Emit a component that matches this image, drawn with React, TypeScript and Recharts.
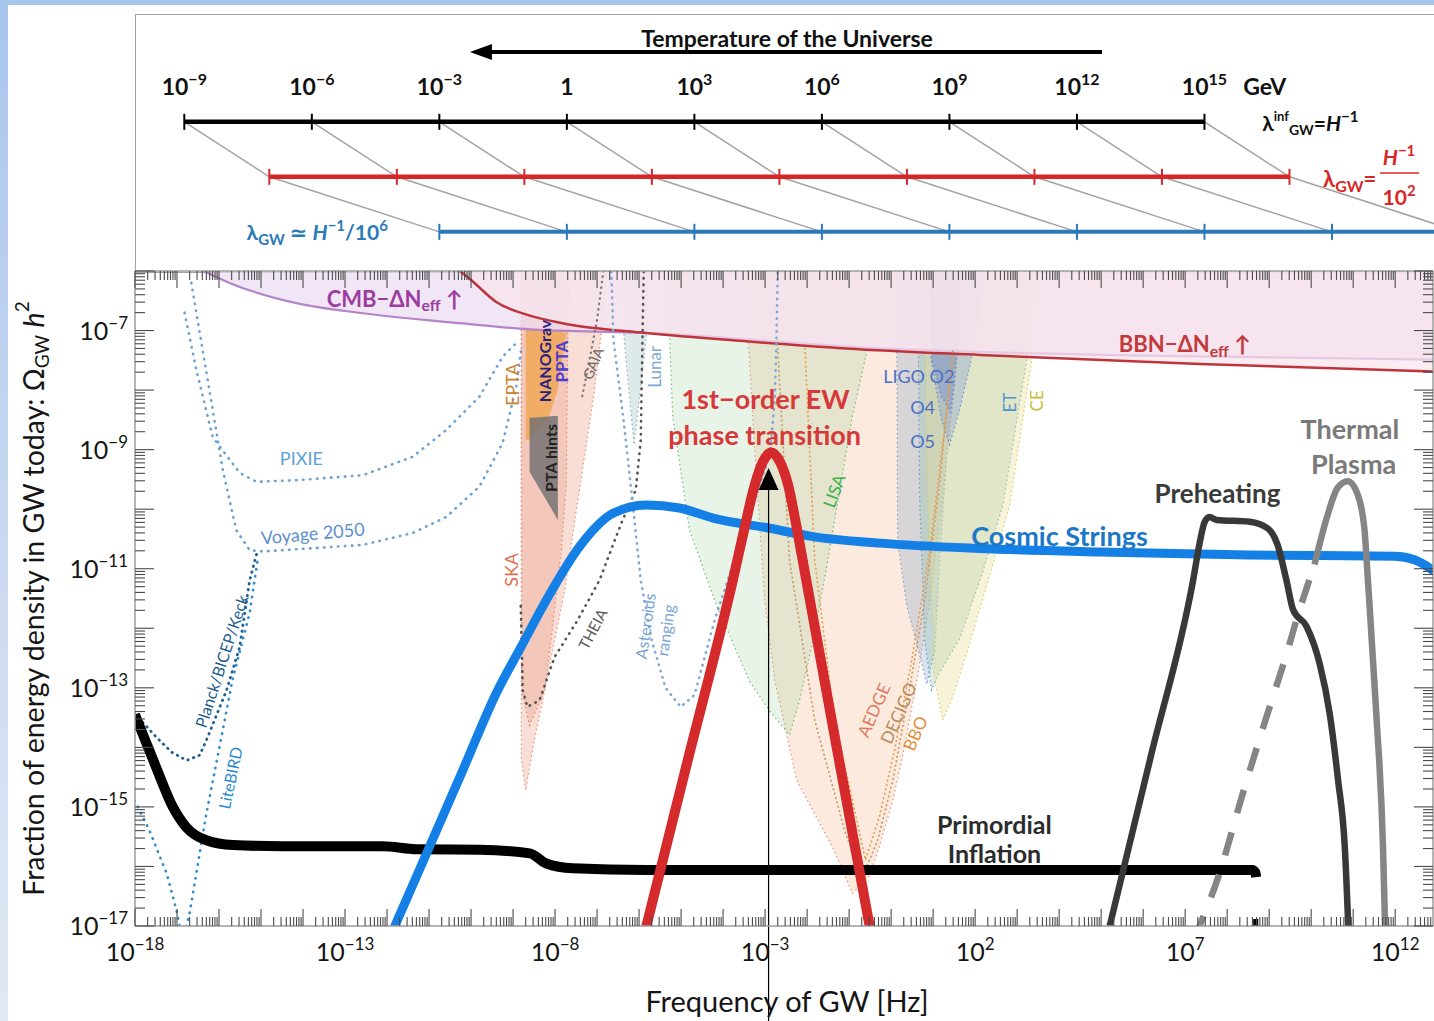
import React from 'react';
import { ComposedChart, Line, Area, Scatter, XAxis, YAxis, ReferenceLine } from 'recharts';

const FONT = "Lato, 'Open Sans', 'DejaVu Sans', sans-serif";
const PAGE_W = 1434;
const PAGE_H = 1021;

type P = [number, number];

/* ===== main panel: x = log10(f / Hz), y = log10(Omega_GW h^2) ===== */
const X_DOMAIN: [number, number] = [-18, 12.9];
const Y_DOMAIN: [number, number] = [-17, -6];
const xLabelDecades = [-18, -13, -8, -3, 2, 7, 12];
const yLabelDecades = [-17, -15, -13, -11, -9, -7];

// signal curves
const inflation: P[] = [[-18.0, -13.45], [-17.82, -13.77], [-17.5, -14.33], [-17.1, -15.0], [-16.78, -15.34], [-16.3, -15.56], [-15.67, -15.64], [-14.5, -15.66], [-12.1, -15.66], [-11.3, -15.71], [-9.8, -15.72], [-8.6, -15.78], [-8.21, -15.95], [-7.58, -16.03], [-5.83, -16.06], [0, -16.06], [5, -16.06], [8.6, -16.06], [8.67, -16.1], [8.69, -16.18]];
const inflationTail: P[] = [[8.62, -16.95], [8.74, -16.95]];
const cosmicStrings: P[] = [[-12.0, -17.3], [-10.99, -15.67], [-10.2, -14.39], [-9.4, -13.09], [-8.8, -12.3], [-8.21, -11.53], [-7.42, -10.63], [-6.62, -10.07], [-5.83, -9.93], [-5.04, -9.98], [-4.24, -10.15], [-2.89, -10.32], [-1.86, -10.46], [-0.27, -10.57], [2.11, -10.66], [4.96, -10.72], [8.53, -10.77], [12.0, -10.79], [12.46, -10.85], [12.95, -11.05]];
const ewPhaseTransition: P[] = [[-5.95, -17.35], [-4.8, -14.1], [-3.77, -11.2], [-3.5, -10.35], [-3.25, -9.6], [-3.05, -9.2], [-2.85, -9.05], [-2.65, -9.2], [-2.45, -9.6], [-2.25, -10.3], [-2.02, -11.19], [-1.27, -14.1], [-0.42, -17.35]];
const preheating: P[] = [[5.1, -17.3], [6.2, -14.1], [7.19, -11.19], [7.35, -10.55], [7.46, -10.22], [7.58, -10.13], [7.75, -10.18], [8.54, -10.21], [8.96, -10.32], [9.2, -10.6], [9.41, -11.19], [9.57, -11.69], [9.89, -11.97], [10.2, -12.59], [10.44, -13.43], [10.64, -14.55], [10.8, -15.67], [10.9, -17.3]];
const thermalDashed: P[] = [[7.22, -17.2], [7.82, -16.11], [8.34, -14.85], [8.89, -13.59], [9.44, -12.37], [9.65, -11.86], [10.08, -10.93]];
const thermalSolid: P[] = [[10.08, -10.93], [10.39, -10.1], [10.63, -9.64], [10.87, -9.53], [11.11, -9.76], [11.27, -10.35], [11.35, -11.19], [11.55, -13.43], [11.71, -15.67], [11.77, -17.3]];

// upper bounds (shaded above)
const cmbBound: P[] = [[-16.45, -5.97], [-15.75, -6.2], [-14.16, -6.54], [-12.58, -6.71], [-10.2, -6.88], [-8.61, -6.98], [-5.83, -7.04], [-0.27, -7.3], [6.0, -7.42], [12.95, -7.49]];
const bbnBound: P[] = [[-10.3, -5.98], [-10.0, -6.15], [-9.4, -6.52], [-8.6, -6.75], [-7.8, -6.88], [-5.83, -7.04], [-3.45, -7.18], [-1.07, -7.3], [2.11, -7.41], [7.35, -7.56], [12.95, -7.69]];

// experiment sensitivity regions (lower boundary, filled up to the top)
const skaOuter: P[] = [[-8.81, -6.0], [-8.8, -14.2], [-8.7, -14.72], [-8.5, -13.9], [-8.33, -13.33], [-8.09, -12.48], [-7.77, -11.36], [-7.54, -10.23], [-7.3, -9.12], [-7.06, -8.0], [-6.9, -7.04], [-6.8, -6.0]];
const skaInner: P[] = [[-8.8, -6.0], [-8.79, -13.04], [-8.61, -13.63], [-8.25, -13.04], [-8.05, -11.92], [-7.85, -10.67], [-7.73, -9.54], [-7.7, -7.04], [-7.65, -6.0]];
const lunarRegion: P[] = [[-6.4, -6.0], [-6.36, -7.11], [-6.12, -8.92], [-5.83, -7.11], [-5.79, -6.0]];
const lisaRegion: P[] = [[-5.33, -6.0], [-5.27, -7.16], [-5.2, -8.43], [-4.8, -10.35], [-4.16, -11.61], [-3.37, -12.89], [-2.89, -13.39], [-2.42, -13.79], [-2.18, -13.21], [-1.87, -12.25], [-1.54, -10.99], [-1.23, -9.71], [-0.92, -8.43], [-0.58, -7.36], [-0.46, -6.0]];
const aedgeRegion: P[] = [[-3.49, -6.0], [-3.25, -9.0], [-3.01, -11.53], [-2.77, -12.87], [-2.25, -14.55], [-1.39, -15.68], [-0.92, -16.45], [-0.51, -16.15], [-0.27, -15.64], [0.04, -14.89], [0.27, -14.16], [0.61, -12.89], [0.92, -11.53], [1.27, -9.51], [1.58, -7.49], [1.75, -6.0]];
const ligoO5Region: P[] = [[0.13, -6.0], [0.155, -10.52], [0.37, -11.61], [0.68, -12.45], [0.85, -12.94], [1.04, -12.37], [1.155, -10.85], [1.345, -8.84], [1.56, -7.16], [1.67, -6.0]];
const etRegion: P[] = [[0.63, -6.0], [0.68, -9.85], [0.8, -12.2], [0.96, -13.04], [1.155, -12.74], [1.63, -12.18], [2.18, -11.05], [2.66, -9.93], [3.23, -7.48], [3.35, -6.0]];
const ceRegion: P[] = [[0.8, -6.0], [0.87, -9.85], [1.04, -12.87], [1.23, -13.54], [1.44, -13.21], [1.82, -12.37], [2.35, -11.1], [2.82, -9.93], [3.35, -7.48], [3.46, -6.0]];
const ligoO4Region: P[] = [[0.92, -6.0], [0.95, -7.48], [1.2, -8.5], [1.39, -8.92], [1.63, -8.33], [1.91, -7.48], [2.23, -6.0]];
const ligoO2Region: P[] = [[0.95, -6.0], [0.97, -7.48], [1.2, -8.1], [1.42, -8.37], [1.5, -7.9], [1.55, -7.48], [1.65, -6.0]];
// ranges [x, low, high]
const eptaBand: [number, number, number][] = [[-8.7, -8.84, -6.95], [-8.607, -8.84, -6.96], [-8.13, -8.42, -7.0], [-7.94, -8.0, -7.02], [-7.727, -7.04, -7.04]];
const ptaHints: [number, number, number][] = [[-8.607, -9.37, -8.47], [-7.933, -10.18, -8.43]];

// dotted sensitivity curves
const decigoCurve: P[] = [[-2.7, -7.3], [-2.42, -10.85], [-1.82, -13.54], [-1.11, -15.39], [-0.7, -16.2], [-0.32, -15.56], [0.04, -14.55], [0.39, -13.21], [0.8, -11.53], [1.16, -9.51], [1.44, -7.49], [1.48, -7.3]];
const bboCurve: P[] = [[-2.05, -7.3], [-1.82, -10.85], [-1.35, -13.54], [-0.87, -15.05], [-0.61, -15.89], [-0.27, -15.14], [0.08, -14.05], [0.49, -12.54], [0.92, -10.69], [1.27, -8.67], [1.48, -7.4]];
const pixieCurve: P[] = [[-16.82, -6.7], [-16.54, -7.66], [-16.15, -8.79], [-15.51, -9.39], [-15.11, -9.54], [-14.08, -9.51], [-12.58, -9.43], [-11.39, -9.12], [-10.59, -8.67], [-9.8, -8.11], [-9.25, -7.44], [-8.85, -7.16]];
const voyageCurve: P[] = [[-16.66, -6.2], [-16.31, -7.66], [-15.91, -9.34], [-15.59, -10.35], [-15.27, -10.69], [-14.96, -10.71], [-12.58, -10.6], [-11.39, -10.4], [-10.59, -10.13], [-9.8, -9.62], [-9.25, -8.89], [-8.92, -7.94], [-8.8, -7.27]];
const planckCurve: P[] = [[-18.01, -13.43], [-17.49, -13.83], [-17.13, -14.08], [-16.77, -14.22], [-16.46, -14.13], [-16.3, -13.88], [-15.82, -13.04], [-15.51, -12.32], [-15.27, -11.19], [-15.08, -10.69]];
const litebirdCurve: P[] = [[-18.01, -14.89], [-17.66, -15.39], [-17.25, -16.11], [-17.01, -16.74], [-16.92, -17.07], [-16.8, -17.07], [-16.7, -16.79], [-16.46, -15.78], [-16.3, -15.11], [-15.99, -14.0], [-15.68, -12.87], [-15.27, -11.74], [-15.08, -10.85]];
const theiaCurve: P[] = [[-5.89, -6.01], [-5.92, -7.16], [-5.96, -8.84], [-6.08, -9.68], [-6.42, -10.23], [-6.94, -11.19], [-7.46, -11.86], [-8.01, -12.48], [-8.37, -13.21], [-8.66, -13.32], [-8.77, -13.04], [-8.82, -11.53]];
const gaiaCurve: P[] = [[-6.85, -6.0], [-7.0, -6.82], [-7.18, -7.49], [-7.37, -8.16]];
const asteroidsCurve: P[] = [[-6.66, -6.01], [-6.61, -7.16], [-6.37, -8.5], [-6.16, -9.85], [-5.96, -11.19], [-5.7, -12.2], [-5.37, -13.0], [-5.01, -13.32], [-4.68, -13.12], [-4.2, -11.86], [-3.73, -10.85], [-3.25, -9.85], [-2.89, -9.09], [-2.77, -8.16], [-2.73, -7.16], [-2.7, -6.01]];

// arrow marking the EW transition frequency
const ewArrowX = -2.917;
const ewArrowTip = -9.31;

// annotations (data coordinates)
const annotations: any[] = [
  { x: -11.82, y: -6.45, parts: [['CMB\u2212\u0394N'], ['eff', 'sub'], [' \u2191']], style: 'cmb' },
  { x: 6.99, y: -7.21, parts: [['BBN\u2212\u0394N'], ['eff', 'sub'], [' \u2191']], style: 'bbn' },
  { x: -2.99, y: -8.13, text: '1st\u2212order EW', style: 'ew' },
  { x: -3.01, y: -8.74, text: 'phase transition', style: 'ew' },
  { x: 4.01, y: -10.43, text: 'Cosmic Strings', style: 'cs' },
  { x: 7.77, y: -9.73, text: 'Preheating', style: 'pre' },
  { x: 10.92, y: -8.63, text: 'Thermal', style: 'th' },
  { x: 11.01, y: -9.22, text: 'Plasma', style: 'th' },
  { x: 2.46, y: -15.29, text: 'Primordial', style: 'inf' },
  { x: 2.46, y: -15.78, text: 'Inflation', style: 'inf' },
  { x: -14.04, y: -9.14, text: 'PIXIE', style: 'pixie' },
  { x: -13.77, y: -10.4, text: 'Voyage 2050', style: 'voyage', rot: -5 },
  { x: -15.96, y: -12.55, text: 'Planck/BICEP/Keck', style: 'planck', rot: -72 },
  { x: -15.75, y: -14.51, text: 'LiteBIRD', style: 'litebird', rot: -78 },
  { x: -9.02, y: -7.91, text: 'EPTA', style: 'epta', rot: -90 },
  { x: -8.27, y: -7.51, text: 'NANOGrav', style: 'nano', rot: -90 },
  { x: -7.85, y: -7.52, text: 'PPTA', style: 'ppta', rot: -90 },
  { x: -7.11, y: -7.55, text: 'GAIA', style: 'gaia', rot: -68 },
  { x: -8.11, y: -9.14, text: 'PTA hints', style: 'hints', rot: -90 },
  { x: -9.04, y: -11.02, text: 'SKA', style: 'ska', rot: -90 },
  { x: -5.65, y: -7.61, text: 'Lunar', style: 'lunar', rot: -90 },
  { x: -7.11, y: -12.01, text: 'THEIA', style: 'theia', rot: -62 },
  { x: -5.87, y: -11.96, text: 'Asteroids', style: 'ast', rot: -82 },
  { x: -5.39, y: -12.03, text: 'ranging', style: 'ast', rot: -82 },
  { x: -1.37, y: -9.69, text: 'LISA', style: 'lisa', rot: -70 },
  { x: -0.43, y: -13.37, text: 'AEDGE', style: 'aedge', rot: -66 },
  { x: 0.16, y: -13.42, text: 'DECIGO', style: 'decigo', rot: -66 },
  { x: 0.56, y: -13.76, text: 'BBO', style: 'bbo', rot: -66 },
  { x: 0.66, y: -7.76, text: 'LIGO O2', style: 'ligo' },
  { x: 0.75, y: -8.28, text: 'O4', style: 'ligo' },
  { x: 0.75, y: -8.85, text: 'O5', style: 'ligo' },
  { x: 2.8, y: -8.21, text: 'ET', style: 'et', rot: -90 },
  { x: 3.44, y: -8.18, text: 'CE', style: 'ce', rot: -90 },
];

const LABEL_STYLES: Record<string, { color: string; size: number; weight: number }> = {
  cmb: { color: '#9b3d9e', size: 22, weight: 700 },
  bbn: { color: '#c23a3c', size: 22, weight: 700 },
  ew: { color: '#d6393a', size: 27, weight: 700 },
  cs: { color: '#1c78c6', size: 27, weight: 700 },
  pre: { color: '#3a3a3a', size: 26, weight: 700 },
  th: { color: '#7a7a7a', size: 27, weight: 700 },
  inf: { color: '#2c2c2c', size: 25, weight: 700 },
  pixie: { color: '#5e9fd6', size: 18, weight: 400 },
  voyage: { color: '#5d8fcc', size: 18, weight: 400 },
  planck: { color: '#1d5b8c', size: 16, weight: 400 },
  litebird: { color: '#2d8bcf', size: 16, weight: 400 },
  epta: { color: '#c8822c', size: 18, weight: 400 },
  nano: { color: '#2b2280', size: 16, weight: 700 },
  ppta: { color: '#4b3bd0', size: 17, weight: 700 },
  gaia: { color: '#666666', size: 14, weight: 400 },
  hints: { color: '#222222', size: 16, weight: 700 },
  ska: { color: '#e0704e', size: 18, weight: 400 },
  lunar: { color: '#7ea8d4', size: 17, weight: 400 },
  theia: { color: '#555555', size: 15, weight: 400 },
  ast: { color: '#78a4d8', size: 16, weight: 400 },
  lisa: { color: '#3fb24a', size: 17, weight: 400 },
  aedge: { color: '#e07b62', size: 17, weight: 400 },
  decigo: { color: '#b98c5b', size: 17, weight: 400 },
  bbo: { color: '#e58d35', size: 17, weight: 400 },
  ligo: { color: '#4b6fc4', size: 18, weight: 400 },
  et: { color: '#4f95d2', size: 17, weight: 400 },
  ce: { color: '#c9bb3c', size: 17, weight: 400 },
};

/* ===== top panel: x in decades (temperature scale), y = row index ===== */
const TOP_X_DOMAIN: [number, number] = [-10.16, 20.4];
const TOP_Y_DOMAIN: [number, number] = [0.27, 4.96];
const tempDecades = [-9, -6, -3, 0, 3, 6, 9, 12, 15];
const ROW_INF = 3; // lambda = 1/H
const ROW_R2 = 2; // lambda = 1/(100 H)
const ROW_R6 = 1; // lambda = 1/(1e6 H)
const SHIFT_R2 = 2;
const SHIFT_R6 = 6;
const tempArrow: P[] = [[12.59, 4.27], [-1.9, 4.27]];
const tempArrowHead = { x: -2.28, y: 4.27 };
const tempTitle = { x: 5.18, y: 4.53, text: 'Temperature of the Universe' };
const gevLabel = { x: 15.91, y: ROW_INF, text: 'GeV' };
const blackLine: P[] = [[-9, ROW_INF], [15, ROW_INF]];
const redLine: P[] = [[-9 + SHIFT_R2, ROW_R2], [15 + SHIFT_R2, ROW_R2]];
const blueLine: P[] = [[-9 + SHIFT_R6, ROW_R6], [21, ROW_R6]];

/* ===== helpers ===== */
const xy = (a: P[]) => a.map(([x, y]) => ({ x, y }));
const rng = (a: [number, number, number][]) => a.map(([x, lo, hi]) => ({ x, y: [lo, hi] }));
const fmt = (e: number) => (e < 0 ? '\u2212' + Math.abs(e) : String(e));
const isMajor = (v: number) => Math.abs(v - Math.round(v)) < 1e-4;
const logTicks = (from: number, to: number, max: number) => {
  const t: number[] = [];
  for (let n = from; n <= to; n++)
    for (let k = 1; k <= 9; k++) {
      const v = n + Math.log10(k);
      if (v <= max + 1e-9) t.push(+v.toFixed(6));
    }
  return t;
};
const xTicks = logTicks(-18, 12, X_DOMAIN[1]);
const yTicks = logTicks(-17, -6, Y_DOMAIN[1]);

const AXIS_LINE = { stroke: '#9c9c9c', strokeWidth: 1.5 };
const TICK_COLOR = '#4a4a4a';
const M = { xAxisId: 'x', yAxisId: 'y' };

const TickBottom = (p: any) => {
  const v = p.payload.value;
  const maj = isMajor(v);
  const e = Math.round(v);
  return (
    <g>
      <line x1={p.x} x2={p.x} y1={p.y} y2={p.y - (maj ? 17 : 9)} stroke={TICK_COLOR} strokeWidth={1.1} />
      {maj && xLabelDecades.includes(e) && (
        <text x={p.x} y={p.y + 35} textAnchor="middle" fontSize={25} fill="#151515" fontFamily={FONT}>
          10<tspan dy={-11} fontSize={17}>{fmt(e)}</tspan>
        </text>
      )}
    </g>
  );
};
const TickTop = (p: any) => {
  const maj = isMajor(p.payload.value);
  return <line x1={p.x} x2={p.x} y1={p.y} y2={p.y + (maj ? 17 : 9)} stroke={TICK_COLOR} strokeWidth={1.1} />;
};
const TickLeft = (p: any) => {
  const v = p.payload.value;
  const maj = isMajor(v);
  const e = Math.round(v);
  return (
    <g>
      <line x1={p.x} x2={p.x + (maj ? 19 : 10)} y1={p.y} y2={p.y} stroke={TICK_COLOR} strokeWidth={1.1} />
      {maj && yLabelDecades.includes(e) && (
        <text x={p.x - 7} y={p.y + 9} textAnchor="end" fontSize={25} fill="#151515" fontFamily={FONT}>
          10<tspan dy={-11} fontSize={17}>{fmt(e)}</tspan>
        </text>
      )}
    </g>
  );
};
const TickRight = (p: any) => {
  const maj = isMajor(p.payload.value);
  return <line x1={p.x} x2={p.x - (maj ? 19 : 10)} y1={p.y} y2={p.y} stroke={TICK_COLOR} strokeWidth={1.1} />;
};

const XTitle = (p: any) => {
  const vb = p.viewBox || { x: 135, y: 926, width: 1298 };
  return (
    <text x={vb.x + vb.width / 2 + 3} y={vb.y + 86} textAnchor="middle" fontSize={29} fill="#151515" fontFamily={FONT}>
      Frequency of GW [Hz]
    </text>
  );
};
const YTitle = (p: any) => {
  const vb = p.viewBox || { x: 134, y: 271, height: 655 };
  const cx = 33;
  const cy = vb.y + vb.height / 2;
  return (
    <text transform={`rotate(-90 ${cx} ${cy})`} x={cx} y={cy} textAnchor="middle" dominantBaseline="central" fontSize={28.5} fill="#151515" fontFamily={FONT}>
      Fraction of energy density in GW today: {'\u03A9'}
      <tspan dy={8} fontSize={19}>GW</tspan>
      <tspan dy={-8}> </tspan>
      <tspan fontStyle="italic">h</tspan>
      <tspan dy={-12} fontSize={19}>2</tspan>
    </text>
  );
};

const renderRich = (parts: any[], size: number) => {
  let off = 0;
  return parts.map(([t, mode]: any, i: number) => {
    const target = mode === 'sub' ? 0.3 * size : mode === 'sup' ? -0.4 * size : 0;
    const dy = target - off;
    off = target;
    return (
      <tspan key={i} dy={dy || undefined} fontSize={mode ? size * 0.72 : undefined}>
        {t}
      </tspan>
    );
  });
};

const AnnotationShape = (p: any) => {
  const a = p.payload;
  const s = LABEL_STYLES[a.style];
  const { cx, cy } = p;
  if (cx == null || cy == null) return <g />;
  return (
    <text
      x={cx}
      y={cy}
      textAnchor="middle"
      dominantBaseline="central"
      fill={s.color}
      fontSize={s.size}
      fontWeight={s.weight}
      fontFamily={FONT}
      transform={a.rot ? `rotate(${a.rot} ${cx} ${cy})` : undefined}
    >
      {renderRich(a.parts || [[a.text]], s.size)}
    </text>
  );
};

const ArrowUpShape = (p: any) => (
  <polygon points={`${p.cx},${p.cy} ${p.cx - 10},${p.cy + 22} ${p.cx + 10},${p.cy + 22}`} fill="#000" />
);

const REGIONS = [
  { key: 'aedge', data: aedgeRegion, fill: '#f6be98', op: 0.32, stroke: '#e8907c' },
  { key: 'lisa', data: lisaRegion, fill: '#9fd49f', op: 0.25, stroke: '#6cc070' },
  { key: 'ligo5', data: ligoO5Region, fill: '#9fb2d0', op: 0.38, stroke: '#7f9fd0' },
  { key: 'et', data: etRegion, fill: '#8fc0a8', op: 0.32, stroke: '#6aa0c8' },
  { key: 'ce', data: ceRegion, fill: '#e8e09a', op: 0.38, stroke: '#d8cc60' },
  { key: 'ligo4', data: ligoO4Region, fill: '#6f8fd8', op: 0.3, stroke: '#6f8fd8' },
  { key: 'ligo2', data: ligoO2Region, fill: '#5f7fd0', op: 0.3, stroke: '#5f7fd0' },
  { key: 'lunar', data: lunarRegion, fill: '#a9c8c8', op: 0.38, stroke: '#8fb0c0' },
  { key: 'skaO', data: skaOuter, fill: '#e98a6c', op: 0.28, stroke: '#e9907a' },
  { key: 'skaI', data: skaInner, fill: '#e07a5a', op: 0.22, stroke: '#e08a70' },
];

const DOTTED = [
  { key: 'decigo', data: decigoCurve, color: '#c99a6a', w: 1.8, dash: '0.5 4' },
  { key: 'bbo', data: bboCurve, color: '#e8a050', w: 1.8, dash: '0.5 4' },
  { key: 'pixie', data: pixieCurve, color: '#6aa2d4', w: 2.6, dash: '0.5 6.5' },
  { key: 'voyage', data: voyageCurve, color: '#6aa2d4', w: 2.6, dash: '0.5 6.5' },
  { key: 'planck', data: planckCurve, color: '#1f5f96', w: 2.8, dash: '0.5 5.5' },
  { key: 'litebird', data: litebirdCurve, color: '#2f8ccc', w: 2.6, dash: '0.5 6.5' },
  { key: 'theia', data: theiaCurve, color: '#555555', w: 2.6, dash: '0.5 6' },
  { key: 'gaia', data: gaiaCurve, color: '#777777', w: 2.2, dash: '0.5 5' },
  { key: 'ast', data: asteroidsCurve, color: '#7fa9d9', w: 2.6, dash: '0.5 6' },
];

function MainPanel() {
  return (
    <ComposedChart width={PAGE_W} height={PAGE_H} margin={{ top: 270, right: 0, bottom: 94, left: 134 }} style={{ fontFamily: FONT }}>
      <XAxis xAxisId="x" dataKey="x" type="number" domain={X_DOMAIN} allowDataOverflow ticks={xTicks} interval={0} tick={<TickBottom />} tickLine={false} tickSize={0} tickMargin={0} height={1} axisLine={AXIS_LINE} label={<XTitle />} />
      <XAxis xAxisId="xt" orientation="top" dataKey="x" type="number" domain={X_DOMAIN} allowDataOverflow ticks={xTicks} interval={0} tick={<TickTop />} tickLine={false} tickSize={0} tickMargin={0} height={1} axisLine={AXIS_LINE} />
      <YAxis yAxisId="y" dataKey="y" type="number" domain={Y_DOMAIN} allowDataOverflow ticks={yTicks} interval={0} tick={<TickLeft />} tickLine={false} tickSize={0} tickMargin={0} width={1} axisLine={AXIS_LINE} label={<YTitle />} />
      <YAxis yAxisId="yr" orientation="right" dataKey="y" type="number" domain={Y_DOMAIN} allowDataOverflow ticks={yTicks} interval={0} tick={<TickRight />} tickLine={false} tickSize={0} tickMargin={0} width={1} axisLine={AXIS_LINE} />

      {REGIONS.map((r) => (
        <Area key={r.key} {...M} data={xy(r.data)} dataKey="y" type="linear" baseValue="dataMax" fill={r.fill} fillOpacity={r.op} stroke={r.stroke} strokeWidth={1.2} strokeDasharray="1.5 3" dot={false} activeDot={false} isAnimationActive={false} />
      ))}
      <Area {...M} data={rng(eptaBand)} dataKey="y" type="linear" fill="#f0a040" fillOpacity={0.7} stroke="none" dot={false} activeDot={false} isAnimationActive={false} />
      <Area {...M} data={rng(ptaHints)} dataKey="y" type="linear" fill="#6e6e6e" fillOpacity={0.8} stroke="none" dot={false} activeDot={false} isAnimationActive={false} />

      <Area {...M} data={xy(cmbBound)} dataKey="y" type="monotone" baseValue="dataMax" fill="#ecdcf2" fillOpacity={0.72} stroke="#b483c8" strokeWidth={2.2} dot={false} activeDot={false} isAnimationActive={false} />
      <Area {...M} data={xy(bbnBound)} dataKey="y" type="monotone" baseValue="dataMax" fill="#f8e4ec" fillOpacity={0.72} stroke="#bf343c" strokeWidth={2.5} dot={false} activeDot={false} isAnimationActive={false} />

      {DOTTED.map((d) => (
        <Line key={d.key} {...M} data={xy(d.data)} dataKey="y" type="linear" stroke={d.color} strokeWidth={d.w} strokeDasharray={d.dash} strokeLinecap="round" dot={false} activeDot={false} isAnimationActive={false} />
      ))}

      <Line {...M} data={xy(inflation)} dataKey="y" type="monotone" stroke="#000" strokeWidth={10} strokeLinecap="butt" dot={false} activeDot={false} isAnimationActive={false} />
      <Line {...M} data={xy(inflationTail)} dataKey="y" type="linear" stroke="#000" strokeWidth={8} strokeLinecap="butt" dot={false} activeDot={false} isAnimationActive={false} />
      <Line {...M} data={xy(cosmicStrings)} dataKey="y" type="monotone" stroke="#1480e6" strokeWidth={9} dot={false} activeDot={false} isAnimationActive={false} />
      <Line {...M} data={xy(ewPhaseTransition)} dataKey="y" type="monotone" stroke="#d42a2b" strokeWidth={10} dot={false} activeDot={false} isAnimationActive={false} />
      <Line {...M} data={xy(preheating)} dataKey="y" type="monotone" stroke="#383838" strokeWidth={6.5} dot={false} activeDot={false} isAnimationActive={false} />
      <Line {...M} data={xy(thermalDashed)} dataKey="y" type="monotone" stroke="#858585" strokeWidth={6.5} strokeDasharray="24 20" strokeLinecap="butt" dot={false} activeDot={false} isAnimationActive={false} />
      <Line {...M} data={xy(thermalSolid)} dataKey="y" type="monotone" stroke="#858585" strokeWidth={6.5} dot={false} activeDot={false} isAnimationActive={false} />

      <ReferenceLine {...M} segment={[{ x: ewArrowX, y: ewArrowTip - 0.3 }, { x: ewArrowX, y: -18.7 }]} stroke="#000" strokeWidth={1.2} ifOverflow="visible" />
      <Scatter {...M} data={[{ x: ewArrowX, y: ewArrowTip }]} dataKey="y" shape={ArrowUpShape} isAnimationActive={false} />
      <Scatter {...M} data={annotations} dataKey="y" shape={AnnotationShape} isAnimationActive={false} />
    </ComposedChart>
  );
}

/* ===== top panel shapes ===== */
const T = { xAxisId: 'tx', yAxisId: 'ty' };
const tickShape = (color: string, withLabel: boolean) => (p: any) => (
  <g>
    <line x1={p.cx} x2={p.cx} y1={p.cy - 8} y2={p.cy + 8} stroke={color} strokeWidth={2} />
    {withLabel && (
      <text x={p.cx} y={p.cy - 27} textAnchor="middle" fontSize={23} fontWeight={700} fill="#111" fontFamily={FONT}>
        {p.payload.T === 0 ? '1' : (
          <>
            10<tspan dy={-10} fontSize={16}>{fmt(p.payload.T)}</tspan>
          </>
        )}
      </text>
    )}
  </g>
);
const LeftHeadShape = (p: any) => (
  <polygon points={`${p.cx},${p.cy} ${p.cx + 22},${p.cy - 8} ${p.cx + 22},${p.cy + 8}`} fill="#000" />
);
const TitleShape = (p: any) => (
  <text x={p.cx} y={p.cy} textAnchor="middle" dominantBaseline="central" fontSize={23} fontWeight={700} fill="#111" fontFamily={FONT}>
    {p.payload.text}
  </text>
);
const GevShape = (p: any) => (
  <text x={p.cx} y={p.cy - 27} textAnchor="start" fontSize={23} fontWeight={700} fill="#111" fontFamily={FONT}>
    {p.payload.text}
  </text>
);
const InfLabelShape = (p: any) => {
  const x = p.cx, y = p.cy;
  return (
    <text x={x} y={y + 9} fontSize={21} fill="#111" fontFamily={FONT} fontWeight={700}>
      {'\u03BB'}
      <tspan dy={-10} fontSize={13}>inf</tspan>
      <tspan dy={14} fontSize={14}>GW</tspan>
      <tspan dy={-4}>=</tspan>
      <tspan fontStyle="italic">H</tspan>
      <tspan dy={-9} fontSize={15}>{'\u22121'}</tspan>
    </text>
  );
};
const RedLabelShape = (p: any) => {
  const x = p.cx, y = p.cy;
  return (
    <g fill="#d62728" fontFamily={FONT} fontWeight={700}>
      <text x={x} y={y + 9} fontSize={22}>
        {'\u03BB'}<tspan dy={5} fontSize={16}>GW</tspan><tspan dy={-5}>=</tspan>
      </text>
      <text x={x + 76} y={y - 13} fontSize={21} textAnchor="middle">
        <tspan fontStyle="italic">H</tspan><tspan dy={-9} fontSize={15}>{'\u22121'}</tspan>
      </text>
      <line x1={x + 57} x2={x + 96} y1={y - 5} y2={y - 5} stroke="#d62728" strokeWidth={1.5} />
      <text x={x + 76} y={y + 27} fontSize={21} textAnchor="middle">
        10<tspan dy={-9} fontSize={15}>2</tspan>
      </text>
    </g>
  );
};
const BlueLabelShape = (p: any) => (
  <text x={p.cx} y={p.cy + 8} textAnchor="end" fill="#2a7ab9" fontFamily={FONT} fontWeight={700} fontSize={21}>
    {'\u03BB'}<tspan dy={5} fontSize={15}>GW</tspan><tspan dy={-5}> {'\u2243'} </tspan>
    <tspan fontStyle="italic">H</tspan><tspan dy={-9} fontSize={15}>{'\u22121'}</tspan>
    <tspan dy={9}>/10</tspan><tspan dy={-9} fontSize={15}>6</tspan>
  </text>
);

function TopPanel() {
  const blackTicks = tempDecades.map((t) => ({ x: t, y: ROW_INF, T: t }));
  const redTicks = tempDecades.map((t) => ({ x: t + SHIFT_R2, y: ROW_R2, T: t }));
  const blueTicks = tempDecades.filter((t) => t <= 12).map((t) => ({ x: t + SHIFT_R6, y: ROW_R6, T: t }));
  return (
    <ComposedChart width={PAGE_W} height={272} margin={{ top: 14, right: 0, bottom: 0, left: 135 }} style={{ fontFamily: FONT }}>
      <XAxis xAxisId="tx" dataKey="x" type="number" domain={TOP_X_DOMAIN} allowDataOverflow hide height={0} />
      <YAxis yAxisId="ty" dataKey="y" type="number" domain={TOP_Y_DOMAIN} allowDataOverflow hide width={0} />
      {tempDecades.map((t) => (
        <Line key={'c' + t} {...T} data={xy([[t, ROW_INF], [t + SHIFT_R2, ROW_R2], [t + SHIFT_R6, ROW_R6]])} dataKey="y" type="linear" stroke="#a3a3a3" strokeWidth={1.5} dot={false} activeDot={false} isAnimationActive={false} />
      ))}
      <Line {...T} data={xy(blackLine)} dataKey="y" type="linear" stroke="#000" strokeWidth={4.5} dot={false} activeDot={false} isAnimationActive={false} />
      <Line {...T} data={xy(redLine)} dataKey="y" type="linear" stroke="#d62728" strokeWidth={4.5} dot={false} activeDot={false} isAnimationActive={false} />
      <Line {...T} data={xy(blueLine)} dataKey="y" type="linear" stroke="#2a7ab9" strokeWidth={4} dot={false} activeDot={false} isAnimationActive={false} />
      <Line {...T} data={xy(tempArrow)} dataKey="y" type="linear" stroke="#000" strokeWidth={4} dot={false} activeDot={false} isAnimationActive={false} />
      <Scatter {...T} data={[tempArrowHead]} dataKey="y" shape={LeftHeadShape} isAnimationActive={false} />
      <Scatter {...T} data={blackTicks} dataKey="y" shape={tickShape('#000', true)} isAnimationActive={false} />
      <Scatter {...T} data={redTicks} dataKey="y" shape={tickShape('#d62728', false)} isAnimationActive={false} />
      <Scatter {...T} data={blueTicks} dataKey="y" shape={tickShape('#2a7ab9', false)} isAnimationActive={false} />
      <Scatter {...T} data={[tempTitle]} dataKey="y" shape={TitleShape} isAnimationActive={false} />
      <Scatter {...T} data={[gevLabel]} dataKey="y" shape={GevShape} isAnimationActive={false} />
      <Scatter {...T} data={[{ x: 16.36, y: ROW_INF }]} dataKey="y" shape={InfLabelShape} isAnimationActive={false} />
      <Scatter {...T} data={[{ x: 17.79, y: 1.98 }]} dataKey="y" shape={RedLabelShape} isAnimationActive={false} />
      <Scatter {...T} data={[{ x: -4.21, y: ROW_R6 }]} dataKey="y" shape={BlueLabelShape} isAnimationActive={false} />
    </ComposedChart>
  );
}

export default function App() {
  return (
    <div
      style={{
        position: 'absolute',
        left: 0,
        top: 0,
        width: PAGE_W,
        height: PAGE_H,
        overflow: 'hidden',
        background: 'linear-gradient(180deg,#a8c5ee 0%,#c5d6f1 45%,#e1e8f4 100%)',
        fontFamily: FONT,
      }}
    >
      <div style={{ position: 'absolute', left: 8, top: 5, width: PAGE_W - 8, height: PAGE_H - 5, background: '#fff' }} />
      <div style={{ position: 'absolute', left: 135, top: 14, width: 1330, height: 259, border: '1.5px solid #a3a3a3', boxSizing: 'border-box' }} />
      <div style={{ position: 'absolute', left: 0, top: 0 }}>
        <TopPanel />
      </div>
      <div style={{ position: 'absolute', left: 0, top: 0 }}>
        <MainPanel />
      </div>
    </div>
  );
}
